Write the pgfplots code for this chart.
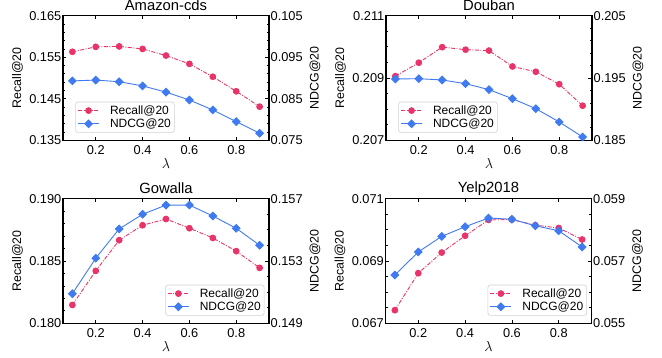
\documentclass[border=0pt]{standalone}
\usepackage{pgfplots}
\pgfplotsset{compat=1.18}
\usepackage{fontspec}
\setmainfont{Liberation Sans}
\definecolor{rc}{RGB}{232,52,104}
\definecolor{nc}{RGB}{64,122,240}
\pgfplotsset{
  base/.style={scale only axis, width=206pt, height=124.6pt,
    xmin=0.06, xmax=0.94, xtick={0.2,0.4,0.6,0.8},
    tick align=inside, major tick length=3.5pt, minor tick length=2pt,
    scaled ticks=false,
    /pgf/number format/assume math mode=true,
    tick label style={font=\fontsize{12.8}{14}\selectfont, inner sep=1.5pt},
    xticklabel style={/pgf/number format/fixed,/pgf/number format/precision=1, yshift=-4pt},
    yticklabel style={/pgf/number format/fixed,/pgf/number format/precision=3,/pgf/number format/fixed zerofill},
    axis line style={line width=1.1pt},
    every tick/.style={black, line width=0.7pt},
    anchor=south west,
    label style={font=\fontsize{12.4}{14}\selectfont},
    title style={font=\fontsize{14.8}{16}\selectfont, at={(axis description cs:0.5,1)}, anchor=center, yshift=4pt},
  },
  left/.style={base, ytick pos=left, xtick pos=both, xticklabel pos=bottom,
    ylabel={Recall@20}, xlabel={$\lambda$},
    ylabel style={at={(axis description cs:0,0.5)}, anchor=center, yshift=45.5pt},
    xlabel style={at={(axis description cs:0.5,0)}, anchor=center, yshift=-23pt, font=\fontsize{14}{16}\selectfont}},
  right/.style={base, ytick pos=right, hide x axis,
    ylabel={NDCG@20},
    ylabel style={at={(axis description cs:1,0.5)}, anchor=center, yshift=-46pt},
    legend cell align=left,
    legend image code/.code={\draw[mark repeat=2,mark phase=2,##1] plot coordinates {(0pt,0pt) (10.5pt,0pt) (21pt,0pt)};},
    legend style={draw=black!18, rounded corners=2.5pt, fill=white, line width=0.6pt,
      font=\fontsize{12}{13.5}\selectfont, inner xsep=2pt, inner ysep=2pt,
      nodes={inner sep=1.5pt},
      /tikz/every odd column/.append style={column sep=9pt}}},
  legSW/.style={legend style={at={(axis description cs:0,0)}, anchor=south west, xshift=12.3pt, yshift=7.6pt}},
  legSE/.style={legend style={at={(axis description cs:1,0)}, anchor=south east, xshift=-4.5pt, yshift=7.6pt}},
  rstyle/.style={rc, line width=0.9pt, dash pattern=on 4pt off 1.5pt on 1pt off 1.5pt,
    mark=*, mark size=2.9pt, mark options={solid, fill=rc, draw=rc}},
  nstyle/.style={nc, line width=0.9pt, solid,
    mark=square*, mark size=2.7pt, mark options={solid, rotate=45, fill=nc, draw=nc}},
}
\begin{document}
\begin{tikzpicture}
\path[use as bounding box] (0,0) rectangle (662pt,358pt);
% Amazon-cds
\begin{axis}[left, at={(63pt,217.7pt)}, ymin=0.135, ymax=0.165,
  ytick={0.135,0.145,0.155,0.165}, minor y tick num=4, title={Amazon-cds}]
\addplot[rstyle] coordinates {(0.1,0.1563)(0.2,0.1575)(0.3,0.1576)(0.4,0.1570)(0.5,0.1554)(0.6,0.1534)(0.7,0.1503)(0.8,0.1468)(0.9,0.1431)};
\end{axis}
\begin{axis}[right, legSW, at={(63pt,217.7pt)}, ymin=0.075, ymax=0.105,
  ytick={0.075,0.085,0.095,0.105}, minor y tick num=4]
\addlegendimage{rstyle}
\addlegendentry{Recall@20}
\addplot[nstyle] coordinates {(0.1,0.0893)(0.2,0.0895)(0.3,0.0891)(0.4,0.0881)(0.5,0.0866)(0.6,0.0847)(0.7,0.0823)(0.8,0.0795)(0.9,0.0767)};
\addlegendentry{NDCG@20}
\end{axis}
% Douban
\begin{axis}[left, at={(386pt,217.7pt)}, ymin=0.207, ymax=0.211,
  ytick={0.207,0.209,0.211}, minor y tick num=3, title={Douban}]
\addplot[rstyle] coordinates {(0.1,0.20906)(0.2,0.20949)(0.3,0.20999)(0.4,0.20991)(0.5,0.20988)(0.6,0.20937)(0.7,0.20920)(0.8,0.20880)(0.9,0.20811)};
\end{axis}
\begin{axis}[right, legSW, at={(386pt,217.7pt)}, ymin=0.185, ymax=0.205,
  ytick={0.185,0.195,0.205}, minor y tick num=4]
\addlegendimage{rstyle}
\addlegendentry{Recall@20}
\addplot[nstyle] coordinates {(0.1,0.19484)(0.2,0.19489)(0.3,0.19468)(0.4,0.19409)(0.5,0.19313)(0.6,0.19168)(0.7,0.19008)(0.8,0.18794)(0.9,0.18553)};
\addlegendentry{NDCG@20}
\end{axis}
% Gowalla
\begin{axis}[left, at={(63pt,34.7pt)}, ymin=0.180, ymax=0.190,
  ytick={0.180,0.185,0.190}, minor y tick num=4, title={Gowalla}]
\addplot[rstyle] coordinates {(0.1,0.18147)(0.2,0.18421)(0.3,0.18667)(0.4,0.18787)(0.5,0.18837)(0.6,0.18763)(0.7,0.18685)(0.8,0.18579)(0.9,0.18445)};
\end{axis}
\begin{axis}[right, legSE, at={(63pt,34.7pt)}, ymin=0.149, ymax=0.157,
  ytick={0.149,0.153,0.157}, minor y tick num=3]
\addlegendimage{rstyle}
\addlegendentry{Recall@20}
\addplot[nstyle] coordinates {(0.1,0.15090)(0.2,0.15318)(0.3,0.15506)(0.4,0.15600)(0.5,0.15659)(0.6,0.15659)(0.7,0.15589)(0.8,0.15510)(0.9,0.15401)};
\addlegendentry{NDCG@20}
\end{axis}
% Yelp2018
\begin{axis}[left, at={(385.5pt,34.7pt)}, ymin=0.067, ymax=0.071,
  ytick={0.067,0.069,0.071}, minor y tick num=3, title={Yelp2018}]
\addplot[rstyle] coordinates {(0.1,0.06742)(0.2,0.06861)(0.3,0.06927)(0.4,0.06981)(0.5,0.07032)(0.6,0.07033)(0.7,0.07015)(0.8,0.07006)(0.9,0.06969)};
\end{axis}
\begin{axis}[right, legSE, at={(385.5pt,34.7pt)}, ymin=0.055, ymax=0.059,
  ytick={0.055,0.057,0.059}, minor y tick num=3]
\addlegendimage{rstyle}
\addlegendentry{Recall@20}
\addplot[nstyle] coordinates {(0.1,0.05655)(0.2,0.05729)(0.3,0.05779)(0.4,0.05810)(0.5,0.05838)(0.6,0.05834)(0.7,0.05813)(0.8,0.05797)(0.9,0.05745)};
\addlegendentry{NDCG@20}
\end{axis}
\end{tikzpicture}
\end{document}
